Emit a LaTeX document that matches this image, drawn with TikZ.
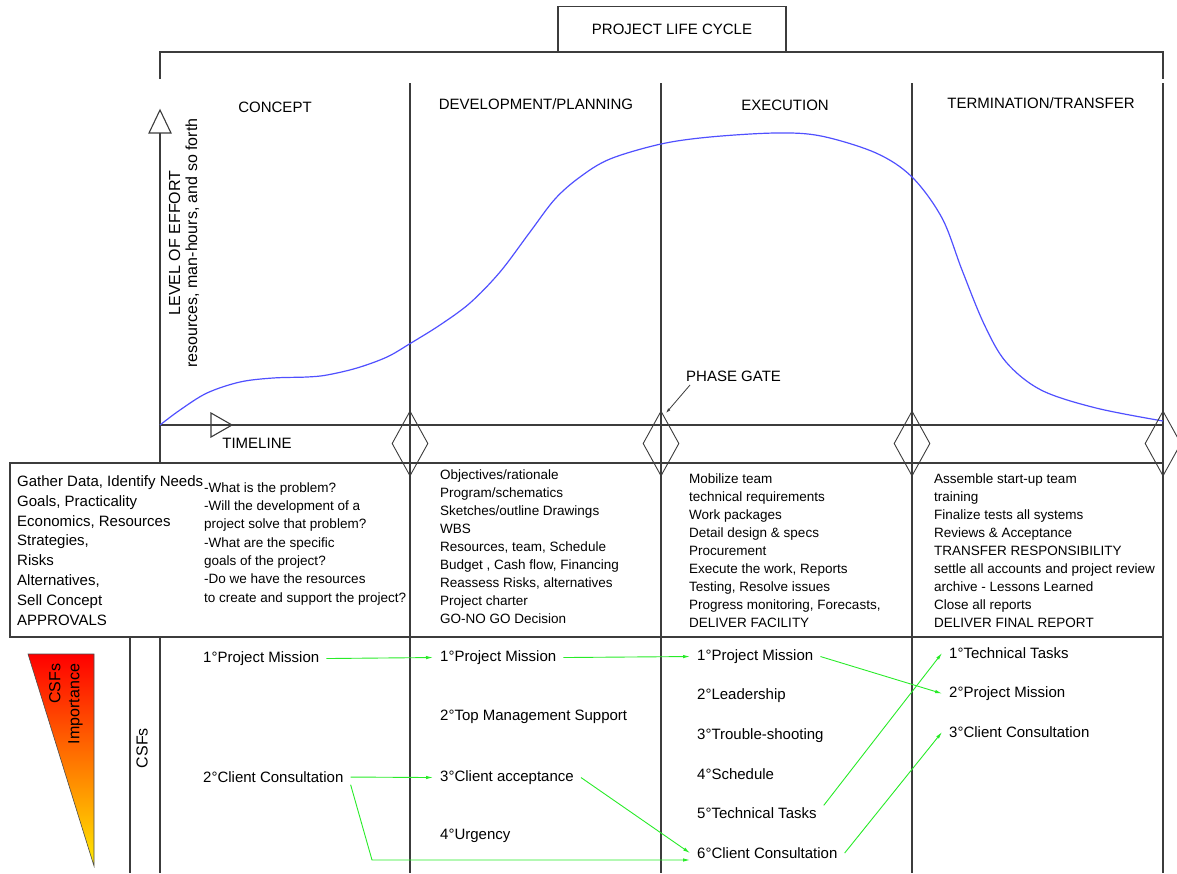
\documentclass[tikz,border=0pt]{standalone}
\usepackage{fontspec}
\setmainfont{Liberation Sans}
\usetikzlibrary{shapes.geometric,arrows.meta,calc}
\definecolor{frame}{RGB}{60,60,60}
\definecolor{effort}{RGB}{80,80,255}
\definecolor{csfgreen}{RGB}{40,235,40}
\definecolor{hot}{RGB}{255,0,0}
\definecolor{warm}{RGB}{255,235,0}
\newcommand{\headfont}{\fontsize{15}{18}\selectfont}
\newcommand{\taskfont}{\fontsize{13.5}{18}\selectfont}
\newcommand{\askfont}{\fontsize{13.5}{18.3}\selectfont}
\newcommand{\conceptfont}{\fontsize{15}{19.9}\selectfont}
\newcommand{\sidefont}{\fontsize{16}{17}\selectfont}
\newcommand{\wedgefont}{\fontsize{16}{19}\selectfont}
\begin{document}
\begin{tikzpicture}[x=1pt,y=-1pt,
  rule/.style={draw=frame, line width=1.1pt},
  heading/.style={font=\headfont, inner sep=0pt},
  % multi-line lists are placed by the baseline of their last line
  tasklist/.style={align=left, anchor=base west, inner sep=0pt},
  csf/.style={font=\headfont, anchor=base west, inner xsep=7pt, inner ysep=2pt},
  gate/.style={diamond, draw=frame, line width=0.9pt, minimum width=36pt, minimum height=65pt, inner sep=0pt},
  link/.style={draw=csfgreen, line width=0.9pt, -{Latex[length=7pt,width=3.5pt]}},
]
\useasboundingbox (0,0) rectangle (1177,873);

% title and bracket over the four phases
\node[draw=frame, line width=1.1pt, minimum width=228pt, minimum height=45pt, font=\headfont] (title) at (672,29) {PROJECT LIFE CYCLE};
\draw[rule] (160,79) -- (160,52) -- (1163,52) -- (1163,79);

% phase headings
\node[heading] (concept) at (275,107) {CONCEPT};
\node[heading] (develop) at (536,104) {DEVELOPMENT/PLANNING};
\node[heading] (execute) at (785,105) {EXECUTION};
\node[heading] (transfer) at (1041,103) {TERMINATION/TRANSFER};

% phase dividers
\foreach \x in {410,661,912,1163} \draw[rule] (\x,83) -- (\x,873);

% effort axis and timeline
\draw[rule] (160,133) -- (160,463);
\draw[rule] (160,637) -- (160,873);
\draw[rule] (130,637) -- (130,873);
\draw[rule] (149,133) -- (160,110) -- (171,133) -- cycle;
\draw[rule] (160,425) -- (1163,425);
\draw[rule] (211,413) -- (232,425) -- (211,437) -- cycle;
\node[heading] (timeline) at (257,443) {TIMELINE};
\node[font=\sidefont, rotate=90, align=center, inner sep=0pt] (effortlabel) at (184,243)
  {LEVEL OF EFFORT\\resources, man-hours, and so forth};

% level of effort curve
\draw[effort, line width=1.2pt] plot[smooth, tension=0.55] coordinates {
  (160,425) (180,410) (207,393) (240,382) (273,378) (307,377) (327,375)
  (357,368) (387,357) (411,343) (440,325) (470,303) (500,272) (530,232)
  (555,199) (580,177) (610,159) (661,144) (710,137) (776,133)
  (821,136) (876,153) (912,177) (942,218) (962,270) (984,324) (1006,362)
  (1041,390) (1096,408) (1163,421)};

% phase gates
\node[gate] (gate1) at (410,443.5) {};
\node[gate] (gate2) at (661,443.5) {};
\node[gate] (gate3) at (912,443.5) {};
\node[gate] (gate4) at (1163,443.5) {};
\node[heading, anchor=base west] (phase) at (686,381.5) {PHASE GATE};
\coordinate (phasefoot) at (690,385);
\coordinate (gatetip) at (666,413);
\draw[draw=frame, line width=0.8pt, -{Latex[length=5pt,width=3pt]}] (phasefoot) -- (gatetip);

% activity table
\draw[rule] (10,463) rectangle (1163,637);
\node[tasklist, font=\conceptfont] (needs) at (17,625.5)
  {Gather Data, Identify Needs\\Goals, Practicality\\Economics, Resources\\Strategies,\\Risks\\Alternatives,\\Sell Concept\\APPROVALS};
\node[tasklist, font=\askfont] (questions) at (204,602)
  {-What is the problem?\\-Will the development of a\\project solve that problem?\\-What are the specific\\goals of the project?\\-Do we have the resources\\to create and support the project?};
\node[tasklist, font=\taskfont] (planning) at (440,623)
  {Objectives/rationale\\Program/schematics\\Sketches/outline Drawings\\WBS\\Resources, team, Schedule\\Budget , Cash flow, Financing\\Reassess Risks, alternatives\\Project charter\\GO-NO GO Decision};
\node[tasklist, font=\taskfont] (works) at (689,627)
  {Mobilize team\\technical requirements\\Work packages\\Detail design \& specs\\Procurement\\Execute the work, Reports\\Testing, Resolve issues\\Progress monitoring, Forecasts,\\DELIVER FACILITY};
\node[tasklist, font=\taskfont] (closing) at (934,627)
  {Assemble start-up team\\training\\Finalize tests all systems\\Reviews \& Acceptance\\TRANSFER RESPONSIBILITY\\settle all accounts and project review\\archive - Lessons Learned\\Close all reports\\DELIVER FINAL REPORT};

% CSF importance wedge
\shade[top color=hot, bottom color=warm] (28,654) -- (94,654) -- (94,866) -- cycle;
\draw[black!70, line width=0.6pt] (28,654) -- (94,654) -- (94,866) -- cycle;
\node[font=\wedgefont, rotate=90, align=right, inner sep=0pt] (importance) at (66,704) {CSFs\\Importance};
\node[font=\sidefont, rotate=90, inner sep=0pt] (csfaxis) at (142,748) {CSFs};

% critical success factors per phase
\node[csf] (c1) at (196,662.4) {1°Project Mission};
\node[csf] (c2) at (196,782.4) {2°Client Consultation};
\node[csf] (d1) at (433,661.4) {1°Project Mission};
\node[csf] (d2) at (433,720.4) {2°Top Management Support};
\node[csf] (d3) at (433,781.4) {3°Client acceptance};
\node[csf] (d4) at (433,839.4) {4°Urgency};
\node[csf] (e1) at (690,660.4) {1°Project Mission};
\node[csf] (e2) at (690,699.4) {2°Leadership};
\node[csf] (e3) at (690,739.4) {3°Trouble-shooting};
\node[csf] (e4) at (690,779.4) {4°Schedule};
\node[csf] (e5) at (690,818.4) {5°Technical Tasks};
\node[csf] (e6) at (690,858.4) {6°Client Consultation};
\node[csf] (t1) at (942,658.4) {1°Technical Tasks};
\node[csf] (t2) at (942,697.4) {2°Project Mission};
\node[csf] (t3) at (942,737.4) {3°Client Consultation};

% how the factors move between phases
\draw[link] (c1.east) -- (d1.west);
\draw[link] (d1.east) -- (e1.west);
\draw[link] (e1.east) -- (t2.west);
\draw[link] (e5.north east) -- (t1.west);
\draw[link] (e6.east) -- (t3.west);
\draw[link] (c2.east) -- (d3.west);
\coordinate (ccbend) at (372,860);
\draw[link] (c2.south east) -- (ccbend) -- (ccbend -| e6.west);
\draw[link] (d3.east) -- (e6.west);
\end{tikzpicture}
\end{document}
